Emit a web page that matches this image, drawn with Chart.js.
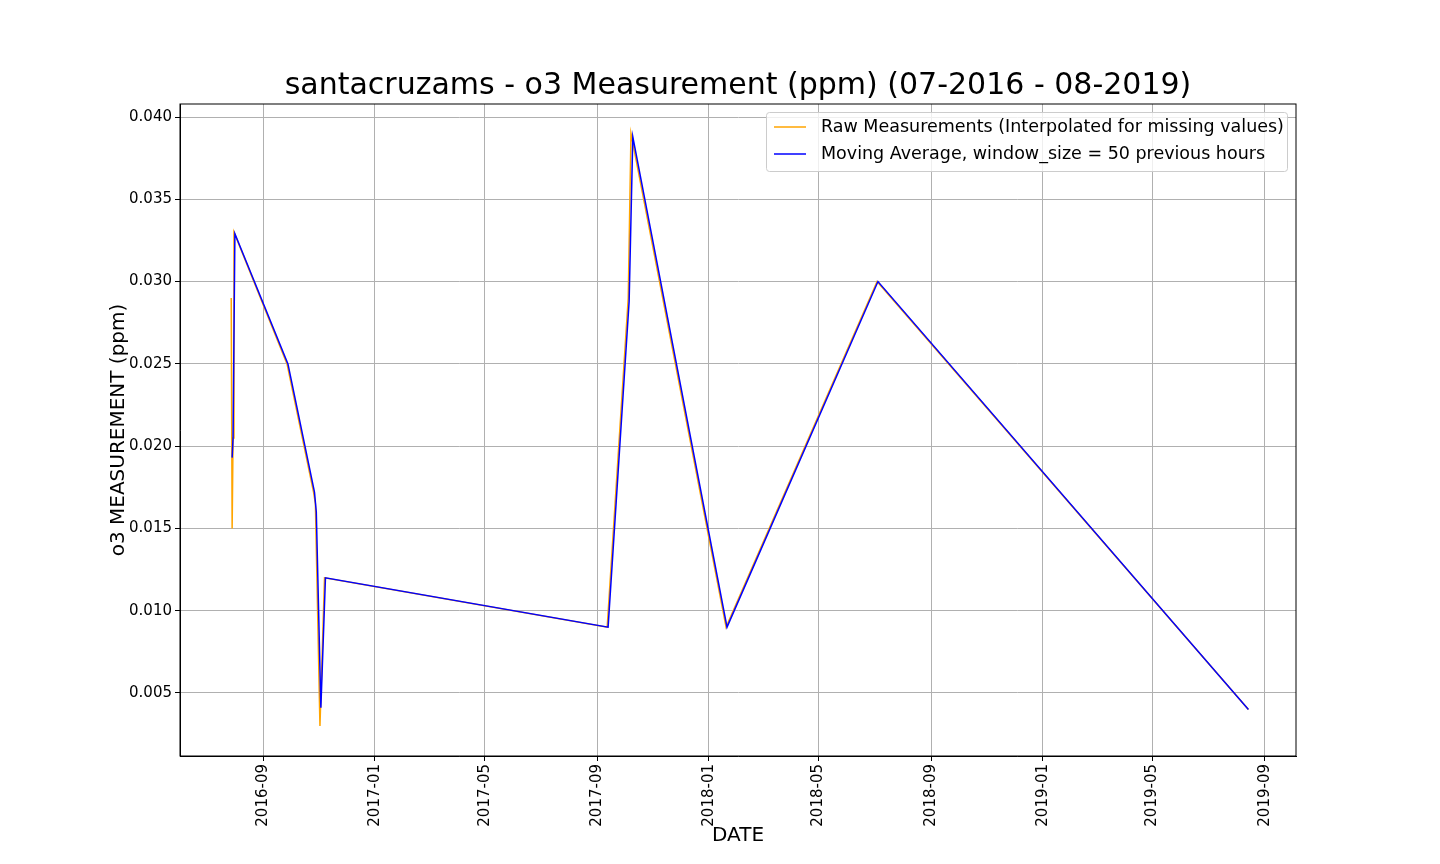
<!DOCTYPE html>
<html><head><meta charset="utf-8">
<script src="https://cdn.jsdelivr.net/npm/chart.js@4"></script>
<style>body{margin:0;background:#fff}canvas{display:block}</style>
</head><body>
<div style="width:1440px;height:864px"><canvas id="c"></canvas></div>
<script>
const rawDates = ['2016-07-28','2016-07-29','2016-07-30','2016-07-31','2016-09-27','2016-10-26','2016-10-28','2016-11-02','2016-11-07','2017-09-12','2017-10-05','2017-10-08','2018-01-20','2018-07-04','2019-08-14'];
const rawValues = [0.029,0.015,0.0205,0.033,0.025,0.0172,0.0165,0.003,0.012,0.009,0.029,0.039,0.009,0.030,0.004];
const maDates = ['2016-07-29','2016-07-30','2016-08-01','2016-09-28','2016-10-27','2016-10-29','2016-11-03','2016-11-08','2017-09-13','2017-10-06','2017-10-10','2018-01-21','2018-07-05','2019-08-14'];
const maValues = [0.0193,0.0205,0.0329,0.025,0.0172,0.0160,0.0041,0.012,0.009,0.0288,0.0388,0.009,0.030,0.004];
const tickMonths = ['2016-09','2017-01','2017-05','2017-09','2018-01','2018-05','2018-09','2019-01','2019-05','2019-09'];
const yTicks = [0.005,0.010,0.015,0.020,0.025,0.030,0.035,0.040];

const ms = s => Date.parse(s + (s.length === 7 ? '-01' : '') + 'T00:00:00Z');
const pts = (d, v) => d.map((x, i) => ({x: ms(x), y: v[i]}));
const F = 'DejaVu Sans';

const overlay = {
  id: 'overlay',
  afterDraw(chart) {
    const c = chart.ctx, a = chart.chartArea;
    c.save();
    c.strokeStyle = '#000'; c.lineWidth = 1;
    c.strokeRect(a.left, a.top, a.right - a.left, a.bottom - a.top);
    c.fillStyle = '#000';
    c.textAlign = 'center';
    c.textBaseline = 'alphabetic';
    c.font = '30px ' + F;
    c.fillText('santacruzams - o3 Measurement (ppm) (07-2016 - 08-2019)', (a.left + a.right) / 2, 94);
    c.font = '20px ' + F;
    c.fillText('DATE', (a.left + a.right) / 2, 841);
    c.save();
    c.translate(124, (a.top + a.bottom) / 2);
    c.rotate(-Math.PI / 2);
    c.fillText('o3 MEASUREMENT (ppm)', 0, 0);
    c.restore();
    // legend
    const x0 = 766, y0 = 112, w = 521, h = 59;
    c.fillStyle = 'rgba(255,255,255,0.8)';
    c.strokeStyle = '#ccc';
    c.beginPath(); c.roundRect(x0 + .5, y0 + .5, w, h, 3); c.fill(); c.stroke();
    c.font = '17.5px ' + F;
    c.textAlign = 'left'; c.textBaseline = 'middle';
    [['orange','Raw Measurements (Interpolated for missing values)'],['blue','Moving Average, window_size = 50 previous hours']].forEach(([col, t], i) => {
      const yy = y0 + 15 + i * 27;
      c.strokeStyle = col; c.lineWidth = 1.5;
      c.beginPath(); c.moveTo(x0 + 8, yy); c.lineTo(x0 + 40, yy); c.stroke();
      c.fillStyle = '#000'; c.fillText(t, x0 + 55, yy);
    });
    c.restore();
  }
};

new Chart(document.getElementById('c'), {
  type: 'line',
  data: { datasets: [
    { data: pts(maDates, maValues), borderColor: 'blue', borderWidth: 1.5, pointRadius: 0, tension: 0 },
    { data: pts(rawDates, rawValues), borderColor: 'orange', borderWidth: 1.5, pointRadius: 0, tension: 0 }
  ]},
  options: {
    responsive: true, maintainAspectRatio: false, animation: false,
    layout: { padding: { top: 104, right: 144, left: 0, bottom: 0 } },
    plugins: { legend: { display: false }, tooltip: { enabled: false } },
    scales: {
      x: {
        type: 'linear', min: ms('2016-06-02'), max: ms('2019-10-05'),
        afterBuildTicks: s => { s.ticks = tickMonths.map(m => ({value: ms(m)})); },
        afterFit: s => { s.height = 108; },
        ticks: { color: '#000', font: {family: F, size: 15}, maxRotation: 90, minRotation: 90,
          callback: v => { const d = new Date(v); return d.getUTCFullYear() + '-' + String(d.getUTCMonth() + 1).padStart(2, '0'); } },
        grid: { color: '#b0b0b0', tickColor: '#000', tickLength: 5 },
        border: { color: '#000' }
      },
      y: {
        min: 0.00117, max: 0.04079,
        afterBuildTicks: s => { s.ticks = yTicks.map(v => ({value: v})); },
        afterFit: s => { s.width = 180; },
        ticks: { color: '#000', font: {family: F, size: 15}, callback: v => v.toFixed(3) },
        grid: { color: '#b0b0b0', tickColor: '#000', tickLength: 5 },
        border: { color: '#000' }
      }
    }
  },
  plugins: [overlay]
});
</script>
</body></html>
